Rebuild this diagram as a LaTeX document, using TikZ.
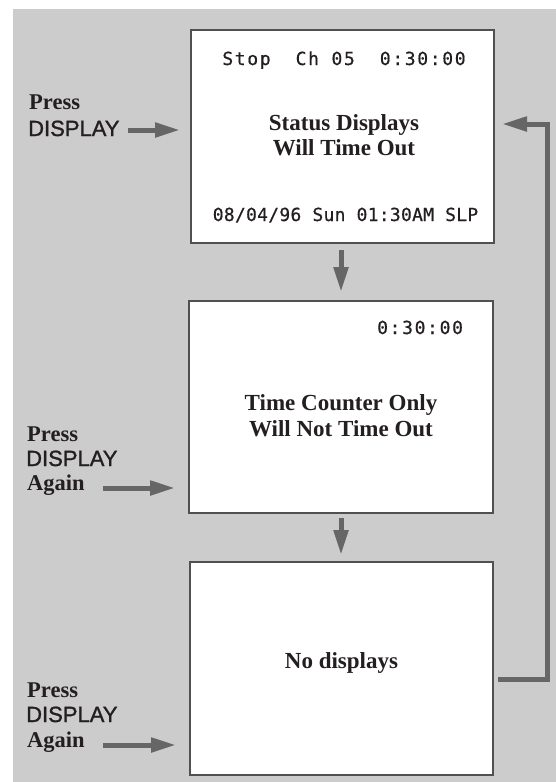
\documentclass[tikz,border=0pt]{standalone}
\usepackage{fontspec}
\setmainfont{Liberation Serif}
\newfontfamily\labsans[FakeBold=1.2]{Liberation Sans}
\newfontfamily\lcdwide[LetterSpace=9.2,FakeBold=0.6]{DejaVu Sans Mono}
\newfontfamily\lcdnarrow[LetterSpace=1.5,FakeBold=0.6]{DejaVu Sans Mono}
\usetikzlibrary{arrows.meta}
\definecolor{bggray}{HTML}{CCCCCC}
\definecolor{arrgray}{HTML}{666666}
\definecolor{boxline}{HTML}{505050}
\definecolor{ink}{HTML}{231F20}
\begin{document}
\begin{tikzpicture}[x=1pt,y=-1pt,
  screen/.style={draw=boxline, line width=1.3pt, fill=white, inner sep=0pt, outer sep=0pt, anchor=north west},
  lcd/.style={inner sep=0pt, anchor=base, text=ink, font=\fontsize{18}{20}\selectfont},
  msg/.style={inner sep=0pt, anchor=base, text=ink, font=\bfseries\fontsize{23}{25}\selectfont},
  labserif/.style={inner sep=0pt, anchor=base west, text=ink, font=\bfseries\fontsize{22.5}{25}\selectfont},
  labsf/.style={inner sep=0pt, anchor=base west, text=ink, font=\labsans\fontsize{22}{25}\selectfont},
  flow/.style={draw=arrgray, line width=5pt, line join=miter, -{Triangle[length=25pt,width=14pt]}}
]
\useasboundingbox (0,0) rectangle (556,782);
\fill[bggray] (13,9) rectangle (556,782);

% screens
\node[screen, minimum width=303pt, minimum height=213pt] (box1) at (191,30) {};
\node[screen, minimum width=304pt, minimum height=212pt] (box2) at (189,301) {};
\node[screen, minimum width=303pt, minimum height=213pt] (box3) at (190,562) {};

% box 1 texts
\node[lcd] (b1top) at (344,65) {\lcdwide Stop\hspace{25pt}Ch\hspace{12.5pt}05\hspace{25pt}0:30:00};
\node[msg] (b1m1) at (344,130) {Status Displays};
\node[msg] (b1m2) at (344,155) {Will Time Out};
\node[lcd] (b1bot) at (345.5,221) {\lcdnarrow 08/04/96\hspace{11.1pt}Sun\hspace{11.1pt}01:30AM\hspace{11.1pt}SLP};

% box 2 texts
\node[lcd, anchor=base west] (b2top) at (377,334) {\lcdwide 0:30:00};
\node[msg] (b2m1) at (341,410) {Time Counter Only};
\node[msg] (b2m2) at (341,436) {Will Not Time Out};

% box 3 text
\node[msg] (b3m1) at (341.5,668) {No displays};

% left labels
\node[labserif] (l1a) at (29,109) {Press};
\node[labsf] (l1b) at (28,136) {DISPLAY};
\node[labserif] (l2a) at (27,441) {Press};
\node[labsf] (l2b) at (26,466) {DISPLAY};
\node[labserif] (l2c) at (27,490) {Again};
\node[labserif] (l3a) at (27,697) {Press};
\node[labsf] (l3b) at (26,722) {DISPLAY};
\node[labserif] (l3c) at (27,747) {Again};

% connectors
\coordinate (in1) at (128,130);
\coordinate (in2) at (103,488);
\coordinate (in3) at (103,745);
\coordinate (midx) at (341,0);
\coordinate (loopA) at (547,679);
\coordinate (loopB) at (547,124);

\draw[flow, shorten >=11pt] (in1) -- (in1 -| box1.west);
\draw[flow, shorten >=14pt] (in2) -- (in2 -| box2.west);
\draw[flow, shorten >=14pt] (in3) -- (in3 -| box3.west);
\draw[flow, shorten <=7pt, shorten >=9pt] (box1.south -| midx) -- (box2.north -| midx);
\draw[flow, shorten <=5pt, shorten >=7pt] (box2.south -| midx) -- (box3.north -| midx);
\draw[flow, shorten <=5pt, shorten >=8pt] (box3.east |- loopA) -- (loopA) -- (loopB) -- (box1.east |- loopB);
\end{tikzpicture}
\end{document}
